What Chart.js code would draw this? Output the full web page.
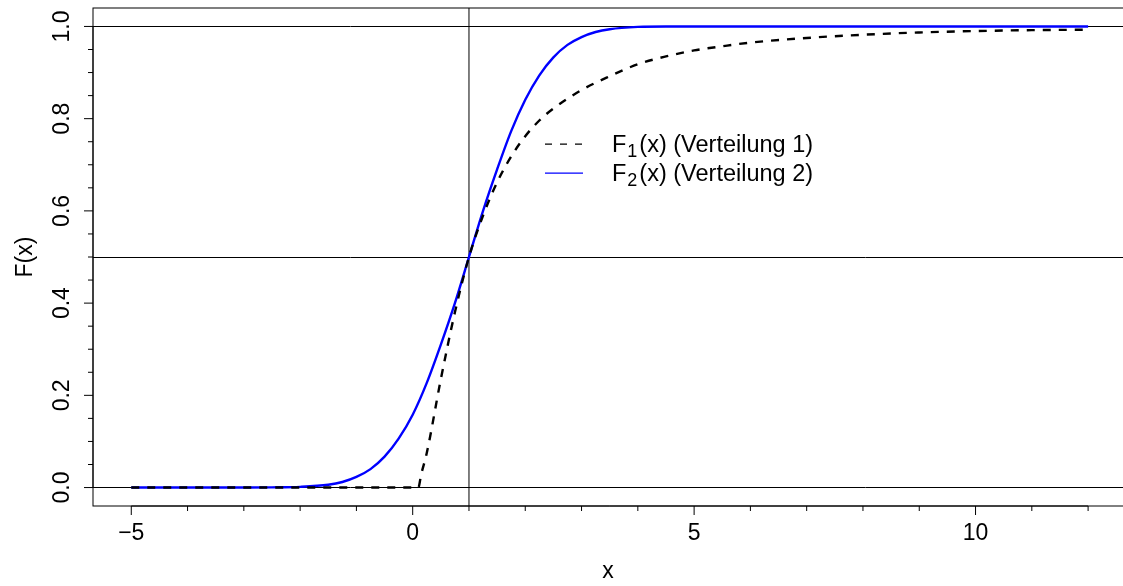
<!DOCTYPE html>
<html>
<head>
<meta charset="utf-8">
<script src="https://cdn.jsdelivr.net/npm/chart.js@4/dist/chart.umd.min.js"></script>
<style>
  html, body { margin: 0; padding: 0; background: #fff; }
</style>
</head>
<body>
<canvas id="chart" width="1123" height="586"></canvas>
<script>
// F1(x) (Verteilung 1)
const xF1 = [-5, 0, 0.1, 0.15, 0.25, 0.5, 0.75, 1, 1.25, 1.5, 1.75, 2, 2.25, 2.5, 3, 3.5, 4, 4.5, 5, 5.5, 6, 7, 8, 9, 10, 11, 12];
const yF1 = [0, 0, 0, 0.028, 0.075, 0.235, 0.38, 0.5, 0.59, 0.662, 0.718, 0.762, 0.796, 0.822, 0.862, 0.892, 0.918, 0.935, 0.948, 0.957, 0.965, 0.975, 0.982, 0.987, 0.99, 0.992, 0.993];

// F2(x) (Verteilung 2)
const xF2 = [-5, -4, -3, -2.5, -2, -1.5, -1.25, -1, -0.75, -0.5, -0.25, 0, 0.25, 0.5, 0.75, 1, 1.25, 1.5, 1.75, 2, 2.25, 2.5, 2.75, 3, 3.25, 3.5, 4, 4.5, 5, 6, 8, 10, 12];
const yF2 = [0, 0, 0.0001, 0.0004, 0.0015, 0.006, 0.012, 0.023, 0.04, 0.067, 0.106, 0.158, 0.227, 0.31, 0.4, 0.5, 0.6, 0.69, 0.773, 0.841, 0.894, 0.933, 0.96, 0.977, 0.988, 0.994, 0.999, 1, 1, 1, 1, 1, 1];

// axes
const xTicks = [-5, 0, 5, 10];
const xTickLabels = ['\u22125', '0', '5', '10'];
const xMinor = [-5, -4, -3, -2, -1, 0, 1, 2, 3, 4, 5, 6, 7, 8, 9, 10, 11, 12];
const yTicks = [0, 0.2, 0.4, 0.6, 0.8, 1];
const yTickLabels = ['0.0', '0.2', '0.4', '0.6', '0.8', '1.0'];
const yMinor = [0, 0.05, 0.1, 0.15, 0.2, 0.25, 0.3, 0.35, 0.4, 0.45, 0.5, 0.55, 0.6, 0.65, 0.7, 0.75, 0.8, 0.85, 0.9, 0.95, 1];

// reference lines (abline)
const hLines = [0, 0.5, 1];
const vLines = [1];

const legendText = [
    ['F', '1', '(x) (Verteilung 1)'],
    ['F', '2', '(x) (Verteilung 2)']
];

const FONT = '"Liberation Sans", Arial, Helvetica, sans-serif';

const rPlot = {
    id: 'rPlot',
    beforeDatasetsDraw(chart) {
        const { ctx, chartArea: a, scales: { x, y } } = chart;
        ctx.save();
        ctx.lineWidth = 1;
        ctx.strokeStyle = '#000';
        hLines.forEach(v => {
            // snap to pixel so the line stays crisp like the original
            const py = Math.round(y.getPixelForValue(v) - 0.5) + 0.5;
            ctx.beginPath();
            ctx.moveTo(a.left, py);
            ctx.lineTo(a.right, py);
            ctx.stroke();
        });
        vLines.forEach(v => {
            const px = x.getPixelForValue(v);
            ctx.beginPath();
            ctx.moveTo(px, a.top);
            ctx.lineTo(px, a.bottom);
            ctx.stroke();
        });
        ctx.restore();
    },
    afterDraw(chart) {
        const { ctx, chartArea: a, scales: { x, y } } = chart;
        ctx.save();
        ctx.strokeStyle = '#000';
        ctx.fillStyle = '#000';
        ctx.lineWidth = 1;

        // box
        ctx.strokeRect(a.left, a.top, a.right + 2 - a.left, a.bottom - a.top);

        // x axis
        ctx.beginPath();
        ctx.moveTo(x.getPixelForValue(xMinor[0]), a.bottom);
        ctx.lineTo(x.getPixelForValue(xMinor[xMinor.length - 1]), a.bottom);
        ctx.stroke();
        xMinor.forEach(v => {
            const px = x.getPixelForValue(v);
            const len = xTicks.includes(v) ? 9 : 5;
            ctx.beginPath();
            ctx.moveTo(px, a.bottom);
            ctx.lineTo(px, a.bottom + len);
            ctx.stroke();
        });
        ctx.font = '23px ' + FONT;
        ctx.textAlign = 'center';
        ctx.textBaseline = 'alphabetic';
        xTicks.forEach((v, i) => {
            ctx.fillText(xTickLabels[i], x.getPixelForValue(v), 540);
        });
        ctx.fillText('x', (a.left + a.right) / 2, 578);

        // y axis
        ctx.beginPath();
        ctx.moveTo(a.left, y.getPixelForValue(0));
        ctx.lineTo(a.left, y.getPixelForValue(1));
        ctx.stroke();
        yMinor.forEach(v => {
            const py = y.getPixelForValue(v);
            const major = yTicks.some(t => Math.abs(t - v) < 1e-9);
            ctx.beginPath();
            ctx.moveTo(a.left, py);
            ctx.lineTo(a.left - (major ? 9 : 5), py);
            ctx.stroke();
        });
        yTicks.forEach((v, i) => {
            ctx.save();
            ctx.translate(68.5, y.getPixelForValue(v));
            ctx.rotate(-Math.PI / 2);
            ctx.fillText(yTickLabels[i], 0, 0);
            ctx.restore();
        });
        ctx.save();
        ctx.translate(32, (a.top + a.bottom) / 2);
        ctx.rotate(-Math.PI / 2);
        ctx.fillText('F(x)', 0, 0);
        ctx.restore();

        // legend
        const ds = chart.data.datasets;
        const rows = [151.7, 180.7];
        legendText.forEach((parts, i) => {
            const base = rows[i];
            const ly = base - 7.5;
            ctx.save();
            ctx.strokeStyle = ds[i].borderColor;
            ctx.lineWidth = 1.2;
            ctx.setLineDash(i === 0 ? [7, 8] : []);
            ctx.beginPath();
            ctx.moveTo(545, ly);
            ctx.lineTo(583, ly);
            ctx.stroke();
            ctx.restore();

            ctx.textAlign = 'left';
            let tx = 612;
            ctx.font = '23.5px ' + FONT;
            ctx.fillText(parts[0], tx, base);
            tx += ctx.measureText(parts[0]).width + 1;
            ctx.font = '18px ' + FONT;
            ctx.fillText(parts[1], tx, base + 5);
            tx += ctx.measureText(parts[1]).width + 2;
            ctx.font = '23.5px ' + FONT;
            ctx.fillText(parts[2], tx, base);
        });
        ctx.restore();
    }
};

const ctx = document.getElementById('chart').getContext('2d');
new Chart(ctx, {
    type: 'line',
    data: {
        datasets: [
            {
                label: 'F1(x) (Verteilung 1)',
                data: xF1.map((v, i) => ({ x: v, y: yF1[i] })),
                borderColor: '#000000',
                borderWidth: 2.4,
                borderDash: [8, 8],
                pointRadius: 0,
                cubicInterpolationMode: 'monotone',
                fill: false,
                order: 0
            },
            {
                label: 'F2(x) (Verteilung 2)',
                data: xF2.map((v, i) => ({ x: v, y: yF2[i] })),
                borderColor: '#0000ff',
                borderWidth: 2.4,
                pointRadius: 0,
                cubicInterpolationMode: 'monotone',
                fill: false,
                order: 1
            }
        ]
    },
    options: {
        responsive: false,
        animation: false,
        layout: {
            padding: { left: 93, right: 0, top: 8, bottom: 80 }
        },
        scales: {
            x: { type: 'linear', min: -5.68, max: 12.62, display: false },
            y: { type: 'linear', min: -0.04, max: 1.04, display: false }
        },
        plugins: {
            legend: { display: false },
            tooltip: { enabled: false }
        }
    },
    plugins: [rPlot]
});
</script>
</body>
</html>
